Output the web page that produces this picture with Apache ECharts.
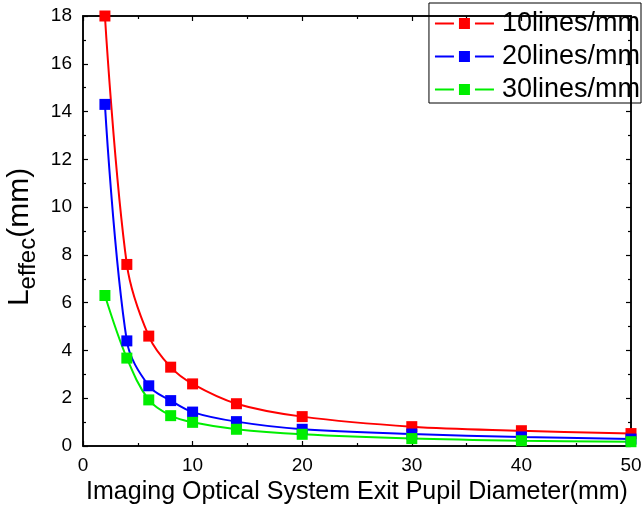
<!DOCTYPE html>
<html>
<head>
<meta charset="utf-8">
<script src="https://cdn.jsdelivr.net/npm/echarts@6/dist/echarts.min.js"></script>
<style>
  html, body { margin: 0; padding: 0; background: #fff; }
  #chart { width: 644px; height: 512px; }
</style>
</head>
<body>
<div id="chart"></div>
<script>
// exit pupil diameter (mm)
var diameters = [2, 4, 6, 8, 10, 14, 20, 30, 40, 50];
var lines10 = [18.0, 7.6, 4.6, 3.3, 2.6, 1.77, 1.23, 0.81, 0.64, 0.52];
var lines20 = [14.3, 4.4, 2.52, 1.9, 1.42, 1.02, 0.70, 0.50, 0.38, 0.29];
var lines30 = [6.3, 3.68, 1.93, 1.27, 0.99, 0.70, 0.49, 0.31, 0.22, 0.18];
var seriesNames = ["10lines/mm", "20lines/mm", "30lines/mm"];
var seriesColors = ["#ff0000", "#0000ff", "#00ee00"];

var chart = echarts.init(document.getElementById("chart"));

function pairs(ys) {
  return diameters.map(function (x, i) { return [x, ys[i]]; });
}

var axisLine = { show: true, onZero: false, lineStyle: { color: "#000", width: 1.5 } };
var tick = { show: true, inside: true, length: 5, lineStyle: { color: "#000", width: 1.2 } };
var minor = { show: true, splitNumber: 2, length: 3, lineStyle: { color: "#000", width: 1.2 } };
var font = "Liberation Sans, Arial, sans-serif";
// dash - square - dash legend glyph
var legendIcon = "path://M0 4.5H19V6.5H0Z M24 0H35V11H24Z M40 4.5H59V6.5H40Z";

var allSeries = [lines10, lines20, lines30].map(function (ys, k) {
  return {
    name: seriesNames[k],
    type: "line",
    smooth: 0.35,
    data: pairs(ys),
    symbol: "rect",
    symbolSize: 11,
    lineStyle: { color: seriesColors[k], width: 2 },
    itemStyle: { color: seriesColors[k] },
    animation: false
  };
});
// empty series so the top / right mirror axes get drawn
allSeries.push({
  type: "line", xAxisIndex: 1, yAxisIndex: 1, data: [], silent: true, animation: false
});

chart.setOption({
  backgroundColor: "#fff",
  grid: {
    left: 83, right: 13, top: 16, bottom: 66,
    outerBoundsMode: "none", containLabel: false,
    show: true, borderColor: "#000", borderWidth: 1.5
  },
  legend: {
    orient: "vertical",
    right: 3,
    top: 3,
    padding: [7, 1, 0, 6],
    itemGap: 6,
    itemWidth: 59,
    itemHeight: 11,
    icon: legendIcon,
    borderColor: "#000",
    borderWidth: 1,
    textStyle: { fontFamily: font, fontSize: 27, color: "#000", padding: [0, 0, 0, 3] },
    data: seriesNames
  },
  xAxis: [{
    type: "value",
    min: 0, max: 50, interval: 10,
    name: "Imaging Optical System Exit Pupil Diameter(mm)",
    nameLocation: "middle",
    nameGap: 34,
    nameTextStyle: { fontFamily: font, fontSize: 25, color: "#000" },
    axisLine: axisLine,
    axisTick: tick,
    minorTick: minor,
    splitLine: { show: false },
    axisLabel: { fontFamily: font, fontSize: 19, color: "#000", margin: 10 }
  }, {
    type: "value",
    position: "top",
    min: 0, max: 50, interval: 10,
    axisLine: axisLine,
    axisTick: tick,
    minorTick: minor,
    splitLine: { show: false },
    axisLabel: { show: false }
  }],
  yAxis: [{
    type: "value",
    min: 0, max: 18, interval: 2,
    name: "{L|L}{s|effec}{m|(mm)}",
    nameLocation: "middle",
    nameGap: 35,
    nameRotate: 90,
    nameTextStyle: {
      fontFamily: font, color: "#000",
      rich: {
        L: { fontFamily: font, fontSize: 30, color: "#000" },
        s: { fontFamily: font, fontSize: 24, color: "#000", padding: [16, 0, 0, 0] },
        m: { fontFamily: font, fontSize: 30, color: "#000", padding: [0, 12, 0, 0] }
      }
    },
    axisLine: axisLine,
    axisTick: tick,
    minorTick: minor,
    splitLine: { show: false },
    axisLabel: { fontFamily: font, fontSize: 19, color: "#000", margin: 11 }
  }, {
    type: "value",
    position: "right",
    min: 0, max: 18, interval: 2,
    axisLine: axisLine,
    axisTick: tick,
    minorTick: minor,
    splitLine: { show: false },
    axisLabel: { show: false }
  }],
  series: allSeries
});
</script>
</body>
</html>
